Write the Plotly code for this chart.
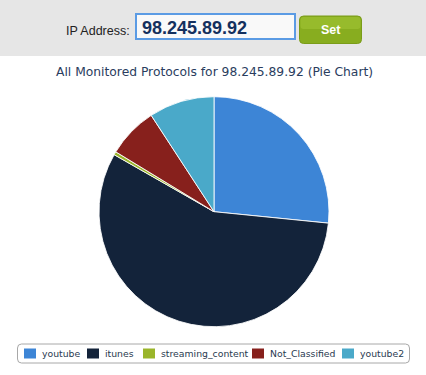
import plotly.graph_objects as go

# ---- data ----
categories = ["youtube", "itunes", "streaming_content", "Not_Classified", "youtube2"]
values = [26.6, 56.7, 0.45, 7.1, 9.2]
colors = ["#3d85d6", "#13233a", "#9ab52a", "#87201c", "#4aa9c9"]
ip_address = "98.245.89.92"
title_text = "All Monitored Protocols for %s (Pie Chart)" % ip_address

W, H = 426, 375


def px(x):
    return x / W


def py(y):
    return 1 - y / H


def rounded_path(x0, y0, x1, y1, r):
    X0, X1 = px(x0), px(x1)
    Y0, Y1 = py(y0), py(y1)
    rx, ry = r / W, r / H
    return (f"M{X0+rx},{Y0} L{X1-rx},{Y0} Q{X1},{Y0} {X1},{Y0-ry} "
            f"L{X1},{Y1+ry} Q{X1},{Y1} {X1-rx},{Y1} L{X0+rx},{Y1} "
            f"Q{X0},{Y1} {X0},{Y1+ry} L{X0},{Y0-ry} Q{X0},{Y0} {X0+rx},{Y0} Z")


cx, cy, R = 214, 211.7, 115

fig = go.Figure(go.Pie(
    labels=categories,
    values=values,
    marker=dict(colors=colors, line=dict(color="rgba(255,255,255,0.85)", width=1)),
    sort=False,
    direction="clockwise",
    rotation=0,
    textinfo="none",
    hoverinfo="label+percent",
    showlegend=False,
    domain=dict(x=[px(cx - R), px(cx + R)], y=[py(cy + R), py(cy - R)]),
))

shapes = []
annotations = []

# header band
shapes.append(dict(type="rect", xref="paper", yref="paper", x0=0, x1=1,
                   y0=py(56), y1=1, fillcolor="#e6e6e6", line=dict(width=0), layer="below"))
# input box
shapes.append(dict(type="rect", xref="paper", yref="paper", x0=px(136), x1=px(295),
                   y0=py(39), y1=py(14), fillcolor="#f9f9f9",
                   line=dict(color="#5b9be4", width=2)))
# Set button
shapes.append(dict(type="path", xref="paper", yref="paper",
                   path=rounded_path(299.5, 16, 361.5, 43.5, 4),
                   fillcolor="#88ad1f", line=dict(color="#7a9c19", width=1)))
shapes.append(dict(type="path", xref="paper", yref="paper",
                   path=rounded_path(300.5, 17, 360.5, 29, 3),
                   fillcolor="rgba(170,205,60,0.45)", line=dict(width=0)))

annotations.append(dict(text="IP Address:", xref="paper", yref="paper", x=px(132), y=py(31),
                        xanchor="right", yanchor="middle", showarrow=False,
                        font=dict(family="Liberation Sans, Arial", size=12.5, color="#222222")))
annotations.append(dict(text="<b>%s</b>" % ip_address, xref="paper", yref="paper", x=px(140), y=py(27.5),
                        xanchor="left", yanchor="middle", showarrow=False,
                        font=dict(family="Liberation Sans, Arial", size=18, color="#14305e")))
annotations.append(dict(text="<b>Set</b>", xref="paper", yref="paper", x=px(330.5), y=py(30),
                        xanchor="center", yanchor="middle", showarrow=False,
                        font=dict(family="Liberation Sans, Arial", size=12.5, color="#ffffff")))

# title
annotations.append(dict(text=title_text, xref="paper", yref="paper", x=px(214), y=py(72),
                        xanchor="center", yanchor="middle", showarrow=False,
                        font=dict(family="DejaVu Sans", size=12.3, color="#2a3d5e")))

# legend box
shapes.append(dict(type="path", xref="paper", yref="paper",
                   path=rounded_path(17.5, 344, 409.5, 363, 4),
                   fillcolor="#ffffff", line=dict(color="#a8a8a8", width=1)))
legend_x = [24, 87, 143, 252, 342]
for name, col, x in zip(categories, colors, legend_x):
    shapes.append(dict(type="rect", xref="paper", yref="paper", x0=px(x), x1=px(x + 12),
                       y0=py(358.5), y1=py(348.5), fillcolor=col, line=dict(width=0)))
    annotations.append(dict(text=name, xref="paper", yref="paper", x=px(x + 16), y=py(353.5),
                            xanchor="left", yanchor="middle", showarrow=False,
                            font=dict(family="DejaVu Sans", size=9.3, color="#2a3a50")))

fig.update_layout(
    width=W, height=H, autosize=False,
    margin=dict(l=0, r=0, t=0, b=0),
    paper_bgcolor="#ffffff", plot_bgcolor="#ffffff",
    shapes=shapes, annotations=annotations,
)

fig.write_html("out.html", config={"displayModeBar": False},
               post_script="document.body.style.margin='0';document.body.style.overflow='hidden';")
